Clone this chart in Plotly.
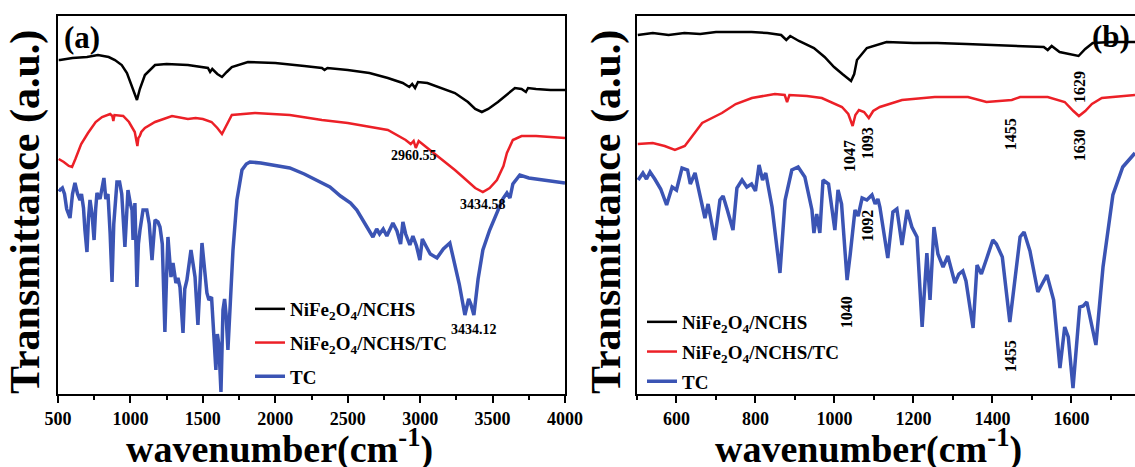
import plotly.graph_objects as go

# ---------------- data (wavenumber cm^-1, transmittance a.u.) ----------------
a_black_x = [505, 514, 600, 700, 776, 850, 893, 940, 976, 1010, 1045, 1065, 1100, 1170, 1250, 1397, 1480, 1535, 1550, 1565, 1600, 1632, 1665, 1700, 1811, 2000, 2200, 2322, 2340, 2360, 2500, 2650, 2777, 2880, 2925, 2945, 2965, 2985, 3050, 3150, 3240, 3330, 3380, 3426, 3470, 3537, 3600, 3654, 3700, 3730, 3745, 3800, 3900, 4000]
a_black_y = [334, 334, 336, 337, 339, 337, 334, 329, 321, 308, 294, 305, 319, 329, 330, 329, 327, 326, 322, 325, 320, 317, 322, 327, 332, 331, 328, 326, 324, 326, 324, 321, 316, 311, 307, 310, 306, 312, 311, 306, 301, 292, 285, 282, 285, 292, 300, 306, 305, 302, 306, 305, 304, 304]

a_red_x = [505, 540, 575, 597, 620, 660, 707, 760, 804, 860, 875, 882, 890, 950, 990, 1030, 1048, 1055, 1065, 1075, 1100, 1170, 1287, 1397, 1450, 1500, 1560, 1600, 1632, 1660, 1700, 1860, 2100, 2322, 2500, 2777, 2850, 2900, 2935, 2955, 2970, 2990, 3050, 3157, 3240, 3295, 3380, 3433, 3480, 3530, 3575, 3599, 3640, 3700, 3800, 3900, 4000]
a_red_y = [235, 232, 228, 227, 235, 250, 261, 272, 277, 280, 278, 273, 279, 278, 272, 262, 248, 256, 258, 262, 266, 272, 278, 275, 276, 275, 272, 266, 260, 268, 279, 281, 279, 274, 271, 264, 258, 254, 250, 253, 246, 253, 246, 234, 224, 217, 206, 202, 206, 214, 228, 241, 254, 258, 258, 257, 256]

a_blue_x = [505, 514, 530, 545, 560, 583, 600, 617, 635, 652, 662, 676, 686, 700, 710, 721, 735, 749, 760, 769, 790, 805, 817, 830, 845, 860, 873, 885, 907, 925, 940, 962, 972, 983, 1000, 1011, 1018, 1031, 1045, 1055, 1066, 1087, 1113, 1130, 1149, 1170, 1190, 1204, 1220, 1238, 1250, 1259, 1280, 1294, 1314, 1328, 1342, 1363, 1375, 1390, 1418, 1446, 1466, 1480, 1494, 1528, 1542, 1560, 1590, 1600, 1610, 1625, 1632, 1639, 1650, 1660, 1673, 1690, 1708, 1735, 1770, 1800, 1825, 1900, 1984, 2100, 2200, 2300, 2377, 2450, 2520, 2563, 2620, 2674, 2700, 2720, 2745, 2770, 2812, 2840, 2865, 2881, 2900, 2929, 2950, 2975, 2998, 3015, 3040, 3070, 3116, 3160, 3205, 3240, 3270, 3309, 3335, 3350, 3371, 3400, 3433, 3480, 3530, 3570, 3599, 3620, 3640, 3688, 3750, 3800, 3900, 4000]
a_blue_y = [205, 204, 206, 200, 185, 176, 200, 211, 200, 194, 200, 186, 164, 142, 175, 194, 180, 154, 185, 201, 195, 205, 216, 195, 200, 160, 112, 170, 212, 212, 200, 147, 180, 204, 190, 184, 154, 191, 107, 150, 164, 184, 184, 170, 134, 174, 172, 167, 150, 62, 120, 157, 117, 131, 111, 116, 107, 61, 105, 114, 144, 117, 69, 120, 151, 101, 94, 97, 24, 60, 50, 2, 40, 84, 95, 80, 44, 100, 144, 194, 224, 230, 232, 231, 229, 226, 220, 213, 207, 198, 191, 184, 170, 157, 165, 160, 165, 158, 171, 163, 150, 172, 160, 149, 158, 148, 134, 155, 148, 140, 136, 145, 151, 130, 110, 79, 95, 90, 79, 115, 144, 164, 181, 195, 201, 196, 210, 219, 216, 215, 213, 211]

b_black_x = [502, 540, 580, 620, 660, 700, 750, 790, 830, 865, 878, 888, 910, 948, 975, 999, 1020, 1042, 1050, 1057, 1082, 1132, 1200, 1260, 1334, 1400, 1450, 1502, 1530, 1540, 1550, 1570, 1603, 1618, 1635, 1654, 1700, 1761]
b_black_y = [359, 361, 359, 361, 360, 362, 362, 362, 361, 359, 354, 358, 353, 346, 337, 327, 320, 313, 320, 334, 346, 352, 351, 351, 350, 349, 348, 347, 347, 344, 348, 342, 339, 338, 345, 351, 352, 352]

b_red_x = [502, 540, 570, 596, 621, 665, 715, 750, 791, 849, 874, 880, 886, 930, 968, 1019, 1035, 1046, 1053, 1062, 1075, 1087, 1098, 1115, 1171, 1254, 1338, 1365, 1385, 1449, 1470, 1540, 1583, 1605, 1619, 1635, 1652, 1677, 1761]
b_red_y = [250, 251, 248, 244, 248, 271, 281, 290, 296, 300, 299, 292, 299, 298, 296, 287, 280, 268, 279, 284, 282, 276, 283, 287, 294, 297, 297, 294, 292, 294, 297, 297, 292, 283, 278, 283, 290, 296, 299]

b_blue_x = [503, 515, 524, 533, 545, 560, 575, 589, 600, 614, 628, 635, 647, 655, 672, 680, 697, 710, 718, 728, 743, 753, 766, 778, 790, 800, 809, 818, 826, 842, 862, 875, 892, 908, 925, 943, 948, 955, 963, 971, 985, 1001, 1009, 1018, 1032, 1040, 1052, 1060, 1070, 1082, 1095, 1103, 1110, 1115, 1135, 1148, 1158, 1171, 1184, 1196, 1209, 1222, 1234, 1242, 1252, 1262, 1275, 1287, 1305, 1315, 1325, 1333, 1351, 1361, 1372, 1385, 1401, 1410, 1425, 1444, 1455, 1470, 1480, 1495, 1515, 1538, 1555, 1571, 1583, 1592, 1604, 1621, 1630, 1639, 1662, 1680, 1705, 1730, 1761]
b_blue_y = [214, 221, 215, 222, 215, 205, 189, 207, 204, 226, 224, 210, 221, 207, 176, 190, 154, 194, 198, 185, 164, 206, 214, 207, 210, 203, 229, 214, 221, 187, 121, 194, 224, 227, 217, 184, 161, 180, 161, 214, 210, 164, 204, 190, 114, 140, 184, 178, 196, 194, 199, 190, 195, 187, 136, 182, 185, 149, 184, 167, 157, 67, 141, 94, 167, 140, 127, 138, 111, 120, 123, 113, 66, 129, 120, 135, 154, 150, 137, 72, 110, 157, 162, 143, 102, 119, 94, 26, 67, 57, 6, 87, 88, 92, 49, 127, 199, 227, 241]

series_names = ["NiFe<sub>2</sub>O<sub>4</sub>/NCHS", "NiFe<sub>2</sub>O<sub>4</sub>/NCHS/TC", "TC"]
series_colors = ["#000000", "#ec2027", "#3b54b4"]

a_xticks = [500, 1000, 1500, 2000, 2500, 3000, 3500, 4000]
b_xticks = [600, 800, 1000, 1200, 1400, 1600]

# ---------------- figure ----------------
W, H = 1135, 467
SERIF = "Liberation Serif"

def px_x(p):
    return p / W

def px_y(p):
    return (H - p) / H

fig = go.Figure()

widths = [2.5, 2.5, 3.5]
for i, (xs, ys) in enumerate([(a_black_x, a_black_y), (a_red_x, a_red_y), (a_blue_x, a_blue_y)]):
    fig.add_trace(go.Scatter(x=xs, y=ys, mode="lines", name=series_names[i],
                             line=dict(color=series_colors[i], width=widths[i]),
                             xaxis="x", yaxis="y", legend="legend", legendgroup="a%d" % i))
for i, (xs, ys) in enumerate([(b_black_x, b_black_y), (b_red_x, b_red_y), (b_blue_x, b_blue_y)]):
    fig.add_trace(go.Scatter(x=xs, y=ys, mode="lines", name=series_names[i],
                             line=dict(color=series_colors[i], width=widths[i]),
                             xaxis="x2", yaxis="y2", legend="legend2", legendgroup="b%d" % i))

ydom = [px_y(394), px_y(16)]
tickfont = dict(family=SERIF, size=18, color="black", weight="bold")

fig.update_layout(
    template="none",
    width=W, height=H,
    margin=dict(l=0, r=0, t=0, b=0, pad=0, autoexpand=False),
    paper_bgcolor="white", plot_bgcolor="white",
    xaxis=dict(domain=[px_x(58), px_x(565)], range=[500, 4000], tickvals=a_xticks,
               ticks="outside", ticklen=7, tickwidth=2, tickcolor="black",
               minor=dict(dtick=250, tick0=500, ticks="outside", ticklen=4, tickwidth=2, tickcolor="black"),
               showline=True, linewidth=2, linecolor="black", mirror=True, automargin=False,
               showgrid=False, zeroline=False, tickfont=tickfont, anchor="y"),
    yaxis=dict(domain=ydom, range=[0, 378], showticklabels=False, ticks="",
               showline=True, linewidth=2, linecolor="black", mirror=True, automargin=False,
               showgrid=False, zeroline=False, anchor="x"),
    xaxis2=dict(domain=[px_x(637), 1.0], range=[500, 1761], tickvals=b_xticks,
                ticks="outside", ticklen=7, tickwidth=2, tickcolor="black",
                minor=dict(dtick=100, tick0=500, ticks="outside", ticklen=4, tickwidth=2, tickcolor="black"),
                showline=True, linewidth=2, linecolor="black", mirror=True, automargin=False,
                showgrid=False, zeroline=False, tickfont=tickfont, anchor="y2"),
    yaxis2=dict(domain=ydom, range=[0, 378], showticklabels=False, ticks="",
                showline=True, linewidth=2, linecolor="black", mirror=False, automargin=False,
                showgrid=False, zeroline=False, anchor="x2"),
    legend=dict(x=px_x(250), y=px_y(290), xanchor="left", yanchor="top",
                bgcolor="rgba(0,0,0,0)", tracegroupgap=6, borderwidth=0,
                font=dict(family=SERIF, size=19, color="black", weight="bold")),
    legend2=dict(x=px_x(642), y=px_y(303), xanchor="left", yanchor="top",
                 bgcolor="rgba(0,0,0,0)", tracegroupgap=2, borderwidth=0,
                 font=dict(family=SERIF, size=19, color="black", weight="bold")),
    showlegend=True,
)

ann = []
def txt(x, y, t, size, xref="paper", yref="paper", angle=0, xanchor="center", yanchor="middle"):
    ann.append(dict(x=x, y=y, xref=xref, yref=yref, text=t, showarrow=False, textangle=angle,
                    xanchor=xanchor, yanchor=yanchor,
                    font=dict(family=SERIF, size=size, color="black", weight="bold")))

# axis titles
txt(px_x(25), px_y(212), "Transmittance (a.u.)", 42, angle=-90)
txt(px_x(606), px_y(212), "Transmittance (a.u.)", 42, angle=-90)
txt(px_x(279), px_y(446), "wavenumber(cm<sup>-1</sup>)", 38)
txt(px_x(868), px_y(446), "wavenumber(cm<sup>-1</sup>)", 38)
# panel labels
txt(px_x(82), px_y(37), "(a)", 31)
txt(px_x(1111), px_y(36), "(b)", 31)
# peak labels panel (a)
txt(2960.55, 394 - 155, "2960.55", 14, xref="x", yref="y")
txt(3434.58, 394 - 204, "3434.58", 14, xref="x", yref="y")
txt(3434.12 - 60, 394 - 329, "3434.12", 14, xref="x", yref="y")
# peak labels panel (b), rotated
for wn, py in [(1629, 87), (1047, 156), (1093, 143), (1455, 134), (1630, 145), (1092, 226), (1040, 312), (1455, 356)]:
    txt(wn - 10, 394 - py, str(wn), 16, xref="x2", yref="y2", angle=-90)

fig.update_layout(annotations=ann)
fig.write_html("out.html", config={"displayModeBar": False},
               post_script="document.body.style.margin='0';document.body.style.overflow='hidden';")
